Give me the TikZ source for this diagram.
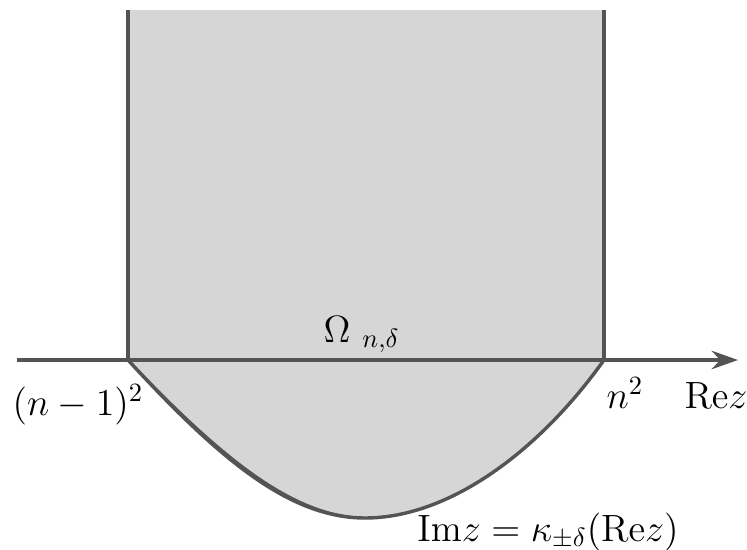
\documentclass[tikz,border=0pt]{standalone}
\usetikzlibrary{arrows.meta}
\begin{document}
\begin{tikzpicture}[x=0.01332cm,y=-0.01332cm,
  bd/.style={draw=black!67,line width=1.3pt},
  lbl/.style={inner sep=0pt,font=\fontsize{14}{17}\selectfont}]
\useasboundingbox (0,0) rectangle (747,550);
\coordinate (TL) at (128,10);
\coordinate (TR) at (604,10);
\coordinate (A) at (128,360);
\coordinate (B) at (604,360);
\coordinate (M) at (365,518);
\coordinate (X0) at (17,360);
\coordinate (X1) at (738,360);
\fill[black!16] (TL) -- (A) .. controls (220,460) and (290,518) .. (M) .. controls (450,518) and (540,450) .. (B) -- (TR) -- cycle;
\draw[bd,-{Stealth[length=10pt,width=7pt]}] (X0) -- (X1);
\draw[bd] (TL) -- (A);
\draw[bd] (TR) -- (B);
\draw[bd] (A) .. controls (220,460) and (290,518) .. (M) .. controls (450,518) and (540,450) .. (B);
\draw[draw=black!67,line width=0.8pt] (A) .. controls (222,458) and (292,516) .. (M);
\node[lbl,anchor=base west] (om) at (323,342) {$\Omega$ $_{n,\delta}$};
\node[lbl,anchor=base] (l1) at (78,415) {$(n-1)^2$};
\node[lbl,anchor=base] (l2) at (625,408) {$n^2$};
\node[lbl,anchor=base] (l3) at (716,408) {$\mathrm{Re}z$};
\node[lbl,anchor=base] (l4) at (548,541) {$\mathrm{Im}z=\kappa_{\pm\delta}(\mathrm{Re}z)$};
\end{tikzpicture}
\end{document}
